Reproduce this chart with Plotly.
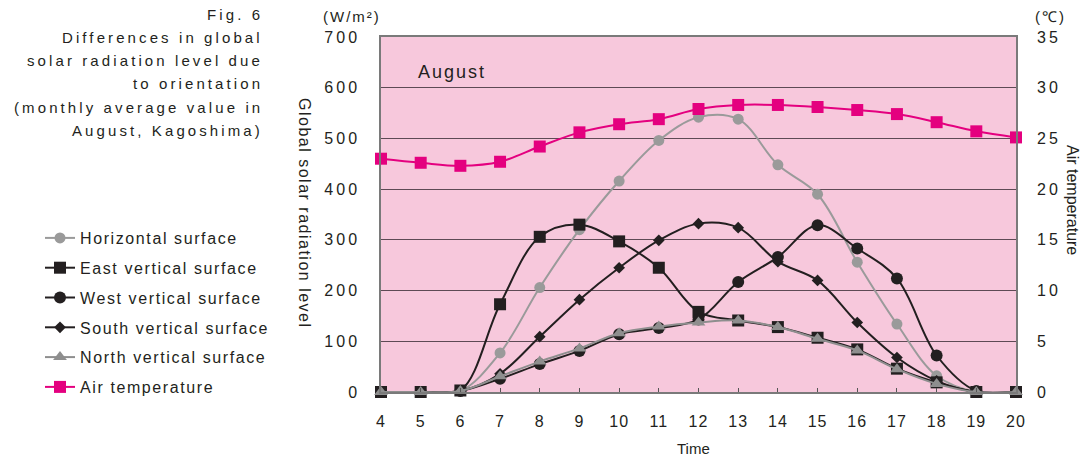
import plotly.graph_objects as go

# ---------------- data ----------------
hours = list(range(4, 21))
horizontal = [0, 0, 2, 77, 206, 320, 416, 496, 542, 538, 448, 390, 256, 134, 32, 0, 0]
east = [0, 0, 3, 173, 306, 330, 297, 245, 158, 141, 128, 107, 84, 46, 19, 0, 0]
west = [0, 0, 2, 26, 55, 81, 114, 126, 143, 217, 266, 329, 283, 224, 72, 2, 0]
south = [0, 0, 2, 36, 109, 182, 245, 299, 332, 324, 257, 220, 137, 68, 22, 0, 0]
north = [0, 0, 2, 31, 60, 86, 116, 129, 137, 141, 128, 105, 82, 45, 16, 0, 0]
air_temp = [23.0, 22.6, 22.3, 22.7, 24.2, 25.6, 26.4, 26.9, 27.9, 28.3, 28.3,
            28.1, 27.8, 27.4, 26.6, 25.7, 25.1]

left_ticks = [0, 100, 200, 300, 400, 500, 600, 700]
right_ticks = [0, 5, 10, 15, 20, 25, 30, 35]

title_lines = ["Fig. 6", "Differences in global", "solar radiation level due",
               "to orientation", "(monthly average value in", "August, Kagoshima)"]

# ---------------- layout geometry ----------------
# reference pixel geometry of the plot area (page body has an 8px margin)
OFF = 8
W, H = 1088 - OFF, 459 - OFF
L, R, T, B = 381, 1016, 37, 392
FONT = "Liberation Sans, Arial, sans-serif"
TXT = "#231f20"


def ls(s, sp):
    return f"<span style='letter-spacing:{sp}px'>{s}</span>"


def px(x):
    return (x - L) / (R - L)


def py(y):
    return (B - y) / (B - T)


fig = go.Figure()

series = [
    ("Horizontal surface", horizontal, "#9a9a9a", "circle", 11, 2),
    ("East vertical surface", east, TXT, "square", 12, 2),
    ("West vertical surface", west, TXT, "circle", 12, 2),
    ("South vertical surface", south, TXT, "diamond", 9, 2),
    ("North vertical surface", north, "#8e8e8e", "triangle-up", 12, 2),
]
for name, vals, col, sym, size, lw in series:
    fig.add_trace(go.Scatter(
        x=hours, y=vals, name=ls(name, 1.6), mode="lines+markers",
        line=dict(color=col, width=lw, shape="spline", smoothing=1.0),
        marker=dict(color=col, symbol=sym, size=size, line=dict(width=0)),
        cliponaxis=False, legendgroup=name,
    ))

fig.add_trace(go.Scatter(
    x=hours, y=air_temp, name=ls("Air temperature", 1.6), mode="lines+markers",
    yaxis="y2",
    line=dict(color="#e4007f", width=2, shape="spline", smoothing=1.0),
    marker=dict(color="#e4007f", symbol="square", size=12, line=dict(width=0)),
    cliponaxis=False, legendgroup="air",
))

annotations = []
for i, line in enumerate(title_lines):
    annotations.append(dict(
        text=ls(line, 3.1), x=px(265), y=py(14 + i * 23.3), xref="paper",
        yref="paper", xanchor="right", yanchor="middle", showarrow=False,
        font=dict(family=FONT, size=15, color=TXT),
    ))
annotations += [
    dict(text=ls("(W/m²)", 2), x=px(352), y=py(16), xref="paper", yref="paper",
         xanchor="center", yanchor="middle", showarrow=False,
         font=dict(family=FONT, size=15, color=TXT)),
    dict(text=ls("(℃)", 2), x=px(1050), y=py(16), xref="paper", yref="paper",
         xanchor="center", yanchor="middle", showarrow=False,
         font=dict(family=FONT, size=15, color=TXT)),
    dict(text=ls("Global solar radiation level", 1.5), x=px(305), y=py(213),
         xref="paper", yref="paper", xanchor="center", yanchor="middle",
         textangle=90, showarrow=False,
         font=dict(family=FONT, size=16, color=TXT)),
    dict(text="Air temperature", x=px(1073), y=py(200), xref="paper",
         yref="paper", xanchor="center", yanchor="middle", textangle=90,
         showarrow=False, font=dict(family=FONT, size=16, color=TXT)),
    dict(text=ls("August", 2), x=px(416), y=py(72), xref="paper", yref="paper",
         xanchor="left", yanchor="middle", showarrow=False,
         font=dict(family=FONT, size=18, color=TXT)),
    dict(text="Time", x=px(693), y=py(448), xref="paper", yref="paper",
         xanchor="center", yanchor="middle", showarrow=False,
         font=dict(family=FONT, size=15, color=TXT)),
]

fig.update_layout(
    width=W, height=H,
    margin=dict(l=L - OFF, r=W - (R - OFF), t=T - OFF, b=H - (B - OFF), pad=0),
    paper_bgcolor="white", plot_bgcolor="#f7c8dc",
    font=dict(family=FONT, size=16, color=TXT),
    showlegend=True,
    legend=dict(x=px(40), y=py(221), xanchor="left", yanchor="top",
                xref="paper", yref="paper", bgcolor="rgba(0,0,0,0)",
                font=dict(family=FONT, size=16, color=TXT),
                tracegroupgap=6, itemwidth=30),
    xaxis=dict(range=[4, 20], tickmode="array", tickvals=hours,
               ticktext=[ls(h, 1) for h in hours],
               showgrid=False, zeroline=False, showline=True, linecolor="#7a7a7a",
               linewidth=1.5, mirror=True, ticks="inside", ticklen=4,
               tickcolor="#555", ticklabelstandoff=14,
               tickfont=dict(family=FONT, size=16, color=TXT)),
    yaxis=dict(range=[0, 700], tickmode="array", tickvals=left_ticks,
               ticktext=[ls(v, 3) for v in left_ticks],
               showgrid=True, gridcolor="#5e4a55", gridwidth=1, zeroline=False,
               showline=True, linecolor="#7a7a7a", linewidth=1.5, mirror=True,
               ticks="", ticklabelstandoff=16,
               tickfont=dict(family=FONT, size=16, color=TXT)),
    yaxis2=dict(range=[0, 35], overlaying="y", side="right", tickmode="array",
                tickvals=right_ticks, ticktext=[ls(v, 3) for v in right_ticks],
                showgrid=False, zeroline=False, showline=False, ticks="",
                ticklabelstandoff=20,
                tickfont=dict(family=FONT, size=16, color=TXT)),
    annotations=annotations,
)

fig.write_html("out.html")
